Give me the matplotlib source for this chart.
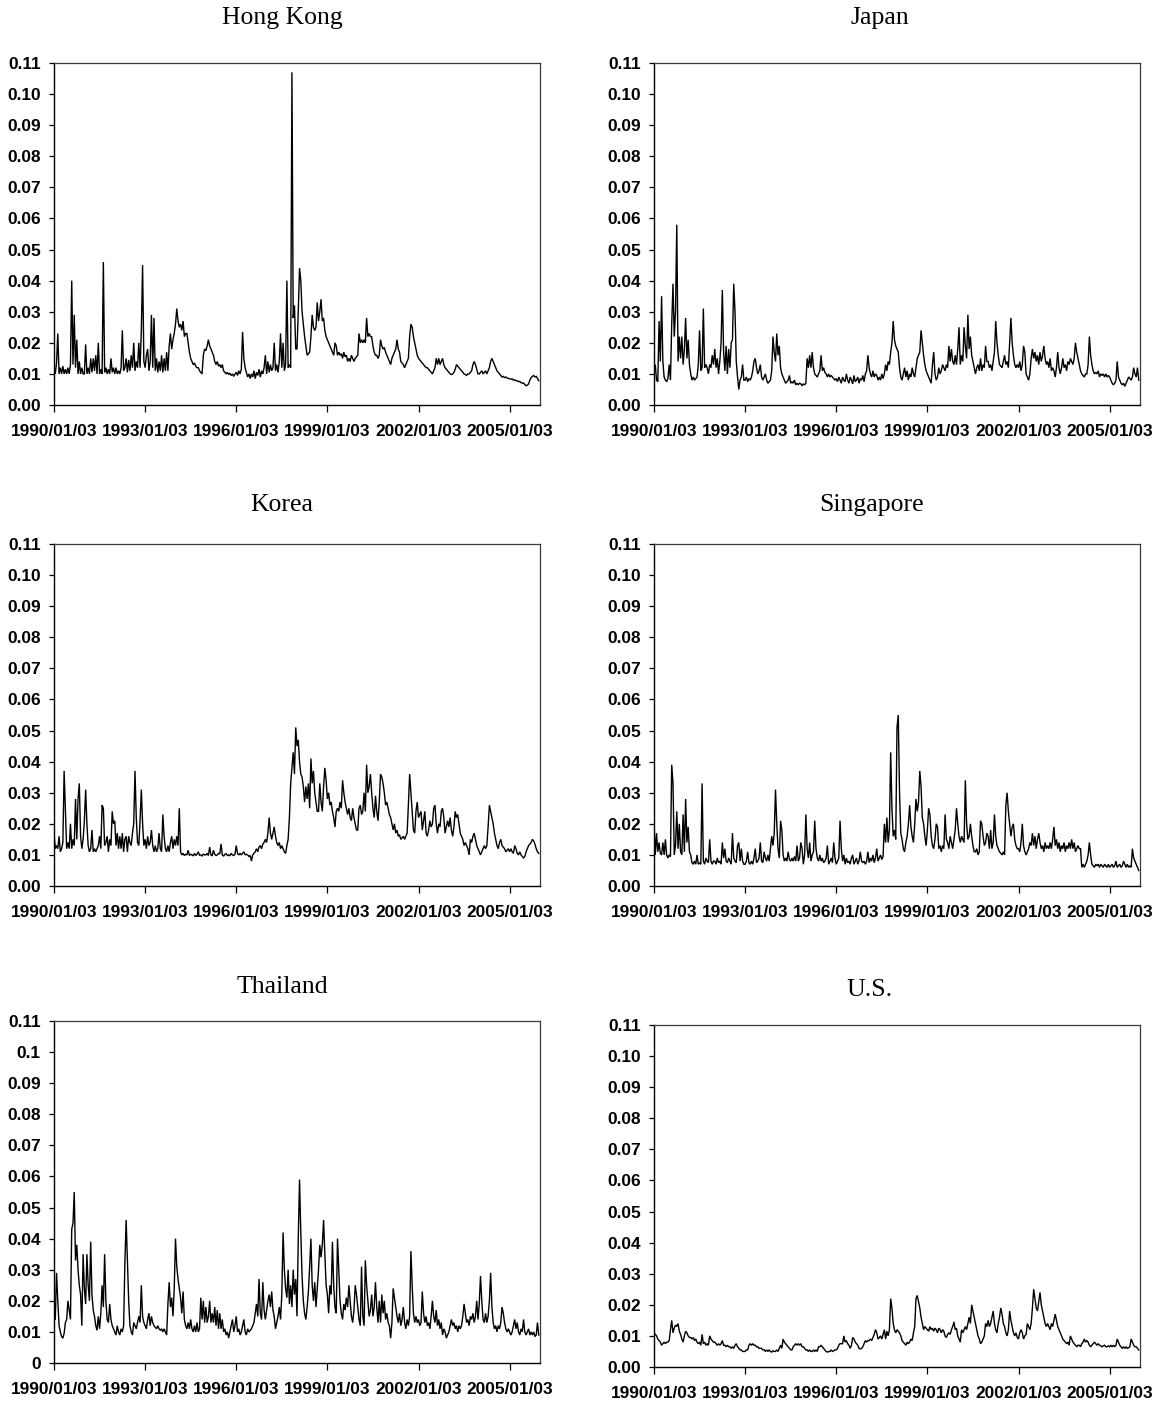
import numpy as np
import matplotlib
matplotlib.use("Agg")
import matplotlib.pyplot as plt

# ---------------- data ----------------
# Volatility series, sampled twice a month from 1990/01/03 (values in units of 0.001)
START_YEAR = 1990.0
PER_YEAR = 24
UNIT = 0.001

hong_kong = [
    12, 10, 13.5, 23, 10, 12, 10, 12.5, 10, 11.5, 10, 12, 10, 13, 40, 13, 29, 12, 21, 10, 14, 10, 12, 10,
    10, 19.5, 10, 12, 10, 15, 10.5, 15, 11, 16, 10, 20, 10, 11.5, 10, 46, 10.5, 12, 10, 11.5, 10, 15, 10.5, 12,
    10, 12, 10, 11, 10, 12, 24, 11, 12, 15, 10.5, 14.5, 11, 16, 12, 20, 11, 14, 12, 20, 12, 24, 45, 14,
    12, 16, 18, 11, 14, 29, 12, 28, 11, 15, 10.5, 14, 11, 16, 10.5, 15, 11, 17, 11, 19, 23, 18, 21, 23,
    26, 31, 27, 25, 26, 24, 27, 22, 23, 23, 20, 17, 15, 14, 13, 13.5, 12.5, 12, 12, 11, 10.5, 10, 16, 18,
    17.5, 19, 21, 19, 18, 17, 16, 14, 13, 14, 12.5, 13, 12, 13, 11, 10.5, 10, 10.5, 9.8, 10.2, 9.5, 10, 9.2, 10,
    10.5, 9.5, 11, 10, 11.5, 23.5, 15, 12, 10.5, 9, 10, 8.5, 10, 9, 11, 8.5, 10.5, 9.5, 11.5, 9, 11, 10, 12, 16,
    10, 14, 10.5, 13, 11, 12, 20, 11, 13, 10.5, 14, 23, 12, 20, 11, 13, 40, 12, 13, 12, 107, 28, 32, 18,
    18, 30, 44, 40, 30, 26, 22, 19, 16, 16.5, 17, 22, 29, 25, 24, 25, 33, 27, 30, 34, 27, 28, 24, 22,
    21, 20, 19, 18, 17, 16, 20, 19, 16, 17, 16, 16.5, 15, 17, 15.5, 16, 14, 15, 14, 16, 15, 14, 15, 15.5,
    16, 23, 20, 21, 20, 21, 20, 28, 22, 23, 22, 22, 19, 17, 16, 16, 15, 16, 21, 19, 18, 18.5, 17, 16,
    15, 14, 13, 15, 16, 17, 18, 21, 18, 17, 14, 13.5, 13, 12, 13, 14, 15, 22, 26, 25, 22, 20, 18, 16,
    15, 14.5, 14, 13.5, 13, 12.5, 12, 12, 11.5, 11, 10.5, 10, 11, 12, 15, 13, 15, 13, 14, 15, 13, 12, 11.5, 11,
    10.5, 10, 9.8, 10, 10.5, 11.5, 13, 12.5, 12, 11.5, 11, 10.5, 10, 9.8, 9.5, 10, 10, 10.5, 11, 13, 14, 13, 11.5, 10,
    10, 10.5, 11, 10, 10.5, 11, 10, 11, 12, 14, 15, 14, 13, 12, 11, 10.5, 10, 9.5, 9, 9.2, 8.8, 9, 8.7, 8.5,
    8.5, 8.3, 8.4, 8, 8.1, 7.8, 7.8, 7.5, 7.6, 7.2, 7, 7.1, 6.6, 6.2, 6.4, 6.8, 8, 8.8, 9.2, 9.5, 9, 9.2, 8.6, 7.8,
]

japan = [
    10, 13, 8, 7.5, 27, 14, 35, 14, 9, 8, 7.5, 8.5, 13, 8, 26, 39, 22, 30, 58, 14, 22, 15, 22, 13,
    18, 28, 15, 21, 13, 10, 8, 9, 8, 8.5, 9, 13, 24, 11, 12, 31, 12, 13, 12, 10, 13, 12, 16, 13,
    18, 12, 15, 10, 14, 20, 37, 17, 11, 19, 10, 18, 12, 20, 21, 39, 30, 14, 9, 5, 8, 9, 13, 8,
    8, 9, 7.5, 8.5, 8, 9, 11, 14, 15, 12, 10, 11, 13, 9, 8, 9, 10, 8, 7, 7.5, 8, 11, 22, 17,
    14, 23, 16, 19, 12, 10, 9, 8, 7, 7.5, 8, 9.5, 7, 7.5, 7, 8, 6.5, 7, 6.5, 7, 6.8, 6.2, 6.8, 6.5,
    7, 15, 12, 16, 12, 17, 12, 10, 9.5, 9, 10, 11, 16, 11, 12, 10.5, 10, 9, 10, 9, 9.5, 9, 8.5, 8,
    8.5, 7.5, 9, 8, 7, 9, 8, 7.5, 10, 8, 7, 9, 8, 6.8, 9.5, 7.5, 8, 9, 7, 8.5, 8, 9.5, 7.5, 10,
    11, 16, 12, 10, 9, 11, 9, 10, 9.5, 8, 9, 8, 10, 8.5, 10, 13, 11, 14, 13, 17, 20, 27, 21, 19,
    18, 17, 12, 9, 8, 10, 12, 9, 11, 8, 10, 9, 12, 10, 9, 12, 15, 16, 17, 24, 20, 16, 13, 11,
    10, 9, 8, 7, 13, 17, 10, 8, 9, 12, 10, 11, 13, 12, 11, 13, 12, 19, 14, 18, 14, 13, 16, 13,
    18, 25, 13, 16, 14, 25, 19, 15, 29, 18, 22, 16, 14, 12, 10, 12, 13, 11, 15, 11, 13, 12, 19, 14,
    14, 12, 13, 11, 14, 17, 27, 20, 16, 13, 12.5, 12, 14, 16, 13, 14, 12, 20, 28, 20, 16, 13, 12, 13,
    12, 14, 11, 13, 19, 17, 10, 9, 8, 10, 15, 18, 15, 17, 14, 16, 13, 17, 14, 16, 19, 15, 13, 14,
    12, 15, 11, 12, 11, 9, 12, 17, 12, 10, 12, 15, 12, 13, 11, 14, 13, 15, 14, 13, 15, 20, 17, 15,
    13, 11, 10, 9.5, 9, 10, 10, 13, 22, 16, 13, 11, 10, 10.5, 10, 11, 9, 10, 9.5, 10, 9, 10, 9, 9.5,
    9, 8, 7, 6.5, 7, 8, 14, 9, 8, 7, 6.5, 7, 6, 7, 8, 9, 8.5, 8, 9, 12, 10, 9, 12, 8,
]

korea = [
    17, 12, 13, 12, 16, 11, 12, 14, 37, 25, 12, 14, 12, 20, 12, 15, 13, 28, 15, 28, 33, 16, 12, 15,
    21, 31, 20, 13, 11, 12, 18, 11, 12, 11, 12, 13, 16, 12, 26, 25, 13, 14, 16, 11, 15, 13, 24, 20,
    21, 13, 17, 12, 16, 12, 17, 11, 15, 16, 11, 16, 14, 13, 17, 20, 37, 22, 14, 13, 21, 31, 20, 13,
    15, 12, 16, 13, 14, 18, 13, 11, 13, 11, 12, 17, 12, 11, 23, 16, 12, 11, 13, 11, 14, 16, 12, 15,
    13, 16, 13, 25, 11, 10, 10.5, 9.8, 10.2, 10, 11.5, 9.8, 10.2, 10, 9.7, 10.5, 9.8, 10.2, 11, 9.9, 10, 9.6, 10.3, 10,
    10, 10.5, 9.8, 12.5, 10, 9.7, 11.5, 10.2, 9.8, 10, 10.5, 10.3, 13.5, 10, 9.6, 10.2, 10.4, 9.8, 10, 9.7, 10.5, 10, 9.8, 10.2,
    13, 10.5, 10, 10.5, 10, 10.5, 11, 10, 10.2, 10, 9.5, 9.8, 8, 10, 10.5, 11, 12, 11, 12.5, 13, 12, 13.5, 14, 15,
    14, 17, 22, 17, 15, 17, 19, 16, 14, 13, 14, 12, 13, 12, 11, 10.5, 13, 15, 22, 33, 38, 43, 36, 51,
    45, 47, 40, 36, 35, 32, 27, 32, 28, 33, 25, 41, 33, 37, 30, 27, 24, 24, 33, 27, 24, 32, 38, 34,
    28, 30, 26, 27, 24, 22, 19, 24, 25, 24, 27, 25, 34, 30, 27, 25, 23, 25, 22, 21, 25, 22, 20, 18,
    18, 25, 26, 23, 24, 30, 24, 39, 30, 32, 36, 30, 25, 22, 29, 24, 21, 27, 36, 35, 33, 30, 26, 27,
    25, 23, 22, 20, 18, 20, 17, 18, 16, 16.5, 15, 15.5, 16, 15, 16, 17, 26, 36, 30, 24, 18, 17, 24, 27,
    22, 23, 24, 18, 21, 24, 17, 16, 18, 21, 19, 20, 25, 26, 20, 17, 20, 19, 24, 25, 22, 17, 19, 21,
    19, 22, 18, 16, 19, 24, 22, 23, 20, 17, 16, 15, 13, 14, 13, 12, 10, 15, 14, 16, 17, 15, 13, 12,
    11, 10, 11, 12, 13, 12, 13, 19, 26, 24, 22, 20, 17, 15, 13, 12, 14, 15, 13, 12.5, 12, 11, 11.5, 12,
    11, 12, 11, 10.5, 13, 12, 10.5, 10, 11, 10, 9.5, 9, 9.5, 11, 12, 13, 13.5, 14, 15, 14.5, 13.5, 12, 11, 10.5,
]

singapore = [
    20, 10, 17, 11, 14, 10.5, 10, 14, 10, 15, 10, 9, 10, 9.5, 39, 33, 10, 13, 24, 12, 20, 11, 10, 23,
    11, 28, 14, 19, 11, 10, 7.5, 7, 8, 7, 10, 7, 7.5, 7, 33, 8, 7, 9, 8, 7.5, 15, 8, 7, 8,
    8, 7, 9, 7.5, 8, 7, 14, 9, 12, 8, 7.5, 9, 8, 7, 17, 9, 8, 7.5, 13, 14, 8, 12, 8, 7,
    7, 8, 11, 7.5, 7, 8, 7, 9, 12, 7.5, 8, 9, 14, 8, 7.5, 11, 9, 8, 10, 8, 12, 16, 13, 17,
    31, 20, 12, 9, 21, 18, 10, 8, 9, 8, 11, 8.5, 8, 9, 8, 9.5, 8, 13, 8, 9, 14, 12, 7, 10,
    23, 12, 9, 14, 8, 10, 11, 21, 12, 9, 8, 10, 8, 9, 7.5, 8, 9, 13, 7, 8, 9, 7.5, 14, 9,
    7, 8, 9, 21, 12, 8, 10, 7, 9, 7.5, 8, 7, 9, 10, 7, 8, 9, 7, 8, 11, 8, 7.5, 8, 7,
    8, 11, 7.5, 9, 8, 10, 7.5, 9, 12, 8, 9, 10, 8.5, 9.5, 20, 14, 22, 14, 18, 43, 25, 16, 18, 15,
    51, 55, 30, 17, 15, 12, 11, 14, 16, 20, 26, 19, 16, 14, 20, 28, 24, 27, 37, 32, 22, 20, 16, 13,
    18, 25, 23, 16, 13, 12, 15, 20, 19, 12, 13, 11, 13, 12, 23, 15, 14, 12, 16, 14, 12, 15, 18, 25,
    20, 16, 14, 16, 15, 14, 34, 20, 15, 16, 20, 16, 13, 11, 11, 12, 10, 11, 21, 20, 16, 13, 14, 17,
    16, 12, 18, 12, 14, 23, 16, 13, 12, 11, 10.5, 10, 11, 10, 26, 30, 24, 20, 16, 19, 20, 15, 13, 12,
    12, 11, 14, 20, 13, 11, 10, 11, 12, 14, 13, 17, 13, 16, 12, 15, 17, 14, 12, 13, 11, 14, 12, 13,
    12, 14, 12, 15, 19, 13, 15, 12, 14, 11, 13, 12, 14, 11, 13, 12, 14, 12, 15, 12, 14, 11, 12, 13,
    12, 12, 6, 7, 6, 7, 8, 10, 14, 10, 7, 6.5, 6, 7, 6.5, 7, 6, 7, 6.5, 6, 7, 6.5, 6, 7,
    6, 6.5, 7, 6, 6.5, 8, 6, 6.5, 7, 6, 6.5, 8, 7, 6, 7, 6, 6.5, 6, 12, 9, 8, 7, 6, 5,
]

thailand = [
    15, 14, 29, 20, 12, 10, 8.5, 8, 9.5, 13, 14, 20, 17, 14, 43, 45, 55, 33, 38, 30, 25, 22, 12, 35,
    24, 19, 35, 25, 20, 39, 22, 17, 15, 12, 10.5, 15, 11, 16, 25, 18, 35, 20, 14, 13, 19, 14, 12, 11,
    10, 9, 12, 10, 9, 11, 10, 12, 32, 46, 33, 20, 12, 10, 9, 13, 12, 11, 13, 15, 13, 25, 15, 13,
    12, 11, 14, 16, 12, 15, 13, 12, 11.5, 11, 12, 11, 10.5, 11, 10, 11, 10, 9, 19, 26, 18, 21, 15, 24,
    40, 31, 27, 24, 21, 16, 23, 14, 12, 11, 13, 11, 14, 11, 10, 12, 10, 13, 10, 11, 21, 14, 20, 13,
    18, 13, 15, 20, 13, 16, 13, 18, 12, 17, 11, 16, 11, 14, 10, 11, 9, 10, 8, 10, 12, 14, 10, 12,
    15, 10, 11, 9, 10, 12, 14, 10, 9, 11, 10, 10.5, 11, 12, 13, 16, 19, 15, 27, 16, 14, 26, 17, 14,
    17, 20, 22, 18, 23, 17, 15, 11, 13, 15, 18, 14, 22, 42, 30, 24, 21, 30, 19, 25, 18, 30, 22, 27,
    15, 40, 59, 42, 28, 20, 16, 14, 18, 23, 31, 40, 25, 20, 26, 18, 24, 30, 38, 34, 38, 46, 35, 25,
    22, 16, 25, 22, 39, 25, 18, 16, 40, 30, 20, 16, 14, 19, 17, 21, 18, 25, 20, 15, 13, 17, 25, 22,
    18, 14, 12, 31, 15, 12, 33, 25, 20, 15, 17, 22, 15, 18, 26, 18, 13, 20, 13, 22, 16, 20, 14, 16,
    13, 12, 8, 13, 24, 21, 18, 15, 13, 16, 12, 14, 18, 13, 11, 14, 12, 15, 36, 25, 16, 13, 15, 13,
    14, 12, 13, 23, 16, 13, 15, 12, 13, 11, 15, 20, 15, 13, 17, 12, 14, 11, 13, 9, 11, 10, 8, 9,
    10, 12, 14, 12, 13, 11, 12, 10, 12, 11, 12, 15, 19, 16, 13, 14, 12, 15, 14, 16, 13, 15, 20, 14,
    19, 28, 20, 14, 13, 16, 13, 15, 20, 29, 18, 13, 11, 12, 10, 12, 11, 13, 18, 16, 13, 11, 10, 11,
    10, 9, 10, 12, 14, 11, 13, 10, 9, 11, 10, 14, 10, 9, 10, 11, 9, 10, 9, 10, 8.5, 9, 13, 9,
]

us = [
    11, 10.5, 10, 9, 8.5, 8, 7, 7.5, 8, 7.5, 8, 8, 8.5, 12, 15, 11, 12.5, 13.5, 13, 14, 11.5, 10.5, 9, 8,
    10, 11.5, 11, 10, 9.5, 9.5, 9, 9.5, 8.5, 9, 8, 7.5, 8, 7, 10.5, 7.5, 8, 7, 7.5, 7, 10, 9, 8.5, 8,
    8, 7.5, 7, 7.5, 7, 7.5, 8.5, 7, 7, 6.5, 7, 6.5, 6.5, 6, 6.5, 6, 7, 7.5, 6.5, 6, 5.5, 5.5, 5, 5,
    5, 5.5, 5.5, 7, 7.5, 7, 7.5, 7, 7, 6.5, 6.5, 6, 6, 6, 5.5, 5.5, 5, 5.5, 5, 5.5, 5, 4.8, 5.2, 5,
    5, 5.5, 5, 6, 7, 6, 9, 8, 7.5, 7, 6.5, 6, 5.5, 5.5, 6.5, 7, 7.5, 7, 7.5, 7, 7.5, 6.5, 6.5, 6,
    5.5, 5.5, 5, 5.5, 5, 5, 5.5, 5, 5.5, 5, 6.5, 6.5, 7, 6.5, 6, 5.5, 5, 4.8, 5, 5, 5.5, 5, 5.2, 5.5,
    5.5, 6, 7, 7.5, 7.5, 7.5, 10, 8, 8.5, 7.5, 7, 6, 7, 9.5, 9, 8, 7.5, 7, 6, 5.8, 6, 6.5, 7.5, 8.5,
    8, 8.5, 8.5, 9, 8.5, 9.5, 10.5, 12, 11, 9, 9.5, 10, 9, 10.5, 12, 9, 11.5, 10, 12, 22, 19, 14, 12, 11,
    12, 11.5, 11, 10, 8.5, 8, 7.5, 7, 8, 7.5, 8, 9, 8.5, 11, 13, 22, 23, 21, 19, 16, 14, 12, 13, 12.5,
    12, 11.5, 13, 12, 12.5, 11.5, 12.5, 12, 11, 12.5, 12, 11, 12, 11.5, 10, 9.5, 10.5, 11, 10.5, 12, 13, 14.5, 12, 12.5,
    10, 9, 8, 12, 11, 12, 13, 12, 14, 16, 14, 20, 18, 16, 14, 12, 10, 9, 7.5, 8, 9, 10, 14, 13,
    15, 13, 14, 16, 18, 14, 12, 11, 14, 16, 19, 17, 14, 13, 11, 10, 12, 18, 15, 13, 11, 10, 11, 9.5,
    9, 11, 12, 11, 9, 10, 10.5, 14, 13, 12, 14, 19, 25, 22, 19, 18, 21, 24, 20, 18, 16, 14, 13, 14,
    13, 12, 14, 13, 15, 17, 15, 13, 12, 11, 10, 9, 8.5, 8, 7.5, 8, 7, 10, 9, 8, 7.5, 7, 6.5, 7,
    7, 6.5, 7.5, 8, 9, 8, 8.5, 8, 7, 6.5, 7, 7.5, 8, 7.5, 7, 7.5, 7, 6.8, 6.5, 6.8, 7, 6.5, 6.5, 6.8,
    6.5, 7, 6.5, 7, 6.5, 7, 9, 8, 7, 6.5, 6, 6.5, 6, 6.5, 6, 6.2, 6.5, 9, 8, 7, 6.5, 6.5, 6, 5.5,
]

countries = ["Hong Kong", "Japan", "Korea", "Singapore", "Thailand", "U.S."]
series = [hong_kong, japan, korea, singapore, thailand, us]

tick_years = [1990, 1993, 1996, 1999, 2002, 2005]
tick_labels = ["1990/01/03", "1993/01/03", "1996/01/03",
               "1999/01/03", "2002/01/03", "2005/01/03"]
y_ticks = [0.00, 0.01, 0.02, 0.03, 0.04, 0.05, 0.06, 0.07, 0.08, 0.09, 0.10, 0.11]
y_labels_fixed = ["0.00", "0.01", "0.02", "0.03", "0.04", "0.05",
                  "0.06", "0.07", "0.08", "0.09", "0.10", "0.11"]
y_labels_general = ["0", "0.01", "0.02", "0.03", "0.04", "0.05",
                    "0.06", "0.07", "0.08", "0.09", "0.1", "0.11"]

# ---------------- layout ----------------
W, H = 1161, 1406
fig = plt.figure(figsize=(W / 100, H / 100), dpi=100)

# axes boxes in pixels: left, top, right, bottom
boxes = [(54, 63, 540, 405), (654, 63, 1140, 405),
         (54, 544, 540, 886), (654, 544, 1140, 886),
         (54, 1021, 540, 1363), (654, 1025, 1140, 1367)]
title_pos = [(282, 18), (880, 18), (282, 505), (872, 505), (282, 987), (869, 990)]

for k, (name, vals) in enumerate(zip(countries, series)):
    l, t, r, b = boxes[k]
    ax = fig.add_axes([l / W, 1 - b / H, (r - l) / W, (b - t) / H])
    y = np.asarray(vals, dtype=float) * UNIT
    x = START_YEAR + np.arange(len(y)) / PER_YEAR
    ax.plot(x, y, color="black", lw=1.0, solid_joinstyle="miter")
    ax.set_xlim(1990.0, 2006.0)
    ax.set_ylim(0, 0.11)
    ax.set_xticks(tick_years)
    ax.set_xticklabels(tick_labels, fontfamily="Liberation Sans",
                       fontweight="bold", fontsize=12.4)
    ax.set_yticks(y_ticks)
    ax.set_yticklabels(y_labels_general if name == "Thailand" else y_labels_fixed,
                       fontfamily="Liberation Sans", fontweight="bold", fontsize=12.4)
    ax.tick_params(axis="x", direction="out", length=5, width=0.9, pad=9, colors="black")
    ax.tick_params(axis="y", direction="out", length=3.6, width=0.9, pad=6, colors="black")
    for side in ["left", "bottom"]:
        ax.spines[side].set_color("black")
        ax.spines[side].set_linewidth(1.0)
    for side in ["top", "right"]:
        ax.spines[side].set_color("#3a3a3a")
        ax.spines[side].set_linewidth(0.9)
    tx, ty = title_pos[k]
    fig.text(tx / W, 1 - ty / H, name, ha="center", va="center",
             fontfamily="Liberation Serif", fontsize=18.5)

fig.savefig("out.png", dpi=100, facecolor="white")
